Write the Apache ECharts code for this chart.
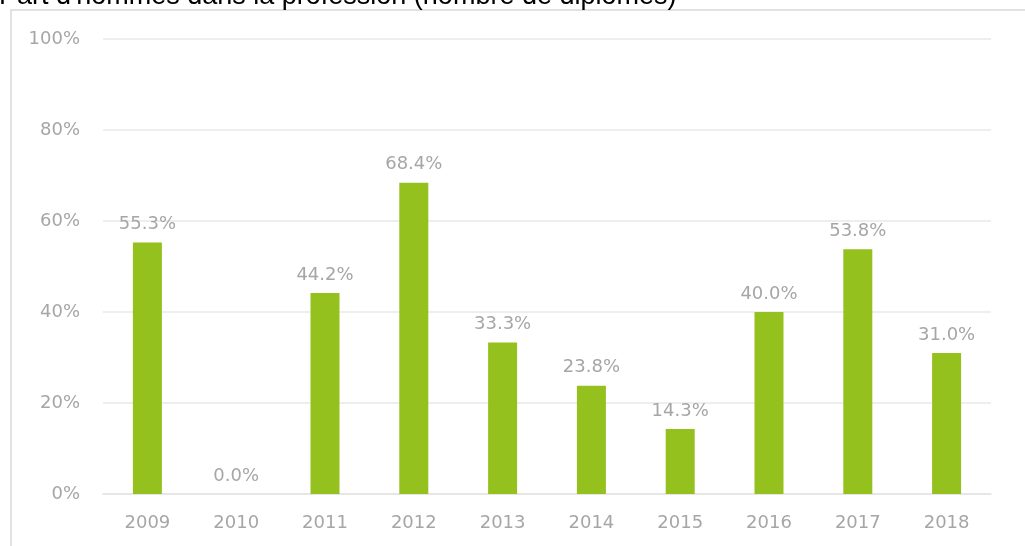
<!DOCTYPE html>
<html>
<head>
<meta charset="utf-8">
<script src="https://cdn.jsdelivr.net/npm/echarts@6/dist/echarts.min.js"></script>
<style>
  html, body { margin: 0; padding: 0; background: #fff; }
  #main { width: 1025px; height: 546px; }
</style>
</head>
<body>
<div id="main"></div>
<script>
// années et part d'hommes (%)
const years = ['2009', '2010', '2011', '2012', '2013', '2014', '2015', '2016', '2017', '2018']
const share = [55.3, 0.0, 44.2, 68.4, 33.3, 23.8, 14.3, 40.0, 53.8, 31.0]
const yTicks = [0, 20, 40, 60, 80, 100]

const titleText = "Part d'hommes dans la profession (nombre de diplômés)"
const grey = '#a6a6a6'
const font = 'DejaVu Sans'

var myChart = echarts.init(document.getElementById('main'))

let option = {
  animation: false,
  backgroundColor: '#fff',
  graphic: [
    {
      type: 'rect',
      z: -1,
      shape: { x: 11, y: 10, width: 1100, height: 600 },
      style: { fill: 'none', stroke: '#d9d9d9', lineWidth: 1.5 },
    },
    {
      type: 'text',
      x: -1,
      y: -3,
      z: 10,
      style: {
        text: titleText,
        font: '27px "Liberation Sans"',
        fill: '#000',
        verticalAlign: 'middle',
      },
    },
  ],
  grid: {
    left: 103,
    right: 34,
    top: 39,
    bottom: 52,
  },
  xAxis: {
    type: 'category',
    data: years,
    axisTick: { show: false },
    axisLine: { lineStyle: { color: '#e3e3e3', width: 1.5 } },
    axisLabel: {
      color: grey,
      fontFamily: font,
      fontSize: 18,
      margin: 20,
    },
  },
  yAxis: {
    type: 'value',
    min: yTicks[0],
    max: yTicks[yTicks.length - 1],
    interval: 20,
    axisLine: { show: false },
    axisTick: { show: false },
    axisLabel: {
      color: grey,
      fontFamily: font,
      fontSize: 18,
      margin: 23,
      formatter: '{value}%',
    },
    splitLine: {
      lineStyle: { color: '#e8e8e8', width: 1.5 },
    },
  },
  series: [
    {
      type: 'bar',
      data: share,
      barWidth: 29,
      itemStyle: { color: '#95c11f' },
      label: {
        show: true,
        position: 'top',
        distance: 9,
        color: grey,
        fontFamily: font,
        fontSize: 18,
        formatter: (p) => p.value.toFixed(1) + '%',
      },
    },
  ],
}
myChart.setOption(option)
</script>
</body>
</html>
